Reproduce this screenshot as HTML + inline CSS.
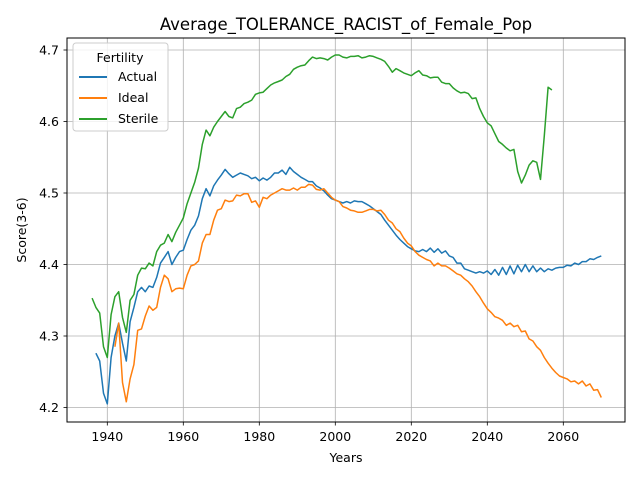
<!DOCTYPE html>
<html><head><meta charset="utf-8"><style>
body{margin:0;background:#fff;}
svg text{font-family:"DejaVu Sans","Liberation Sans",sans-serif;fill:#000;}
</style></head><body>
<svg id="chart" width="640" height="480" xmlns="http://www.w3.org/2000/svg">
<rect width="640" height="480" fill="#fff"/>
<text x="346" y="30" font-size="16.5" text-anchor="middle">Average_TOLERANCE_RACIST_of_Female_Pop</text>
<g id="grid"></g>
<g id="series"></g>
<rect x="67" y="38" width="558" height="384" fill="none" stroke="#000" stroke-width="1"/>
<g id="axes"></g>
<text x="346" y="462" font-size="12.5" text-anchor="middle">Years</text>
<text x="26" y="230" font-size="12.5" text-anchor="middle" transform="rotate(-90 26 230)">Score(3-6)</text>
<g>
<rect x="73" y="43" width="95" height="88" rx="3" fill="#fff" fill-opacity="0.8" stroke="#ccc"/>
<text x="120" y="62" font-size="12.5" text-anchor="middle">Fertility</text>
<g><line x1="79" x2="107" y1="77" y2="77" stroke="#1f77b4" stroke-width="2"/><text x="118" y="81" font-size="12.5">Actual</text></g>
<g><line x1="79" x2="107" y1="98" y2="98" stroke="#ff7f0e" stroke-width="2"/><text x="118" y="102" font-size="12.5">Ideal</text></g>
<g><line x1="79" x2="107" y1="119" y2="119" stroke="#2ca02c" stroke-width="2"/><text x="118" y="123" font-size="12.5">Sterile</text></g>
</g>
</svg>
<script>
const xTicks=[1940,1960,1980,2000,2020,2040,2060];
const yTicks=[4.2,4.3,4.4,4.5,4.6,4.7];
const actualStart=1937;
const actual=[4.276,4.265,4.22,4.205,4.27,4.30,4.318,4.29,4.265,4.32,4.34,4.362,4.368,4.362,4.37,4.368,4.382,4.402,4.41,4.418,4.40,4.41,4.418,4.42,4.435,4.448,4.455,4.468,4.492,4.506,4.496,4.51,4.518,4.525,4.533,4.527,4.522,4.525,4.528,4.526,4.524,4.52,4.522,4.517,4.521,4.518,4.522,4.528,4.528,4.532,4.526,4.536,4.53,4.526,4.522,4.519,4.516,4.516,4.51,4.507,4.503,4.497,4.492,4.49,4.488,4.486,4.488,4.486,4.489,4.488,4.488,4.485,4.482,4.478,4.474,4.47,4.462,4.455,4.448,4.441,4.435,4.43,4.425,4.422,4.419,4.418,4.421,4.418,4.423,4.417,4.422,4.416,4.419,4.412,4.41,4.402,4.402,4.394,4.392,4.39,4.388,4.39,4.388,4.391,4.386,4.393,4.385,4.396,4.386,4.398,4.387,4.399,4.39,4.4,4.39,4.398,4.39,4.395,4.39,4.394,4.392,4.395,4.396,4.396,4.399,4.398,4.402,4.4,4.404,4.404,4.408,4.407,4.41,4.412];
const idealStart=1942;
const ideal=[4.285,4.318,4.235,4.208,4.24,4.26,4.308,4.31,4.328,4.342,4.336,4.34,4.368,4.385,4.38,4.362,4.366,4.367,4.366,4.385,4.398,4.4,4.405,4.43,4.442,4.442,4.462,4.476,4.478,4.49,4.488,4.489,4.497,4.496,4.499,4.499,4.487,4.489,4.48,4.494,4.492,4.497,4.5,4.503,4.506,4.504,4.504,4.507,4.504,4.508,4.508,4.512,4.511,4.505,4.504,4.506,4.5,4.494,4.49,4.488,4.481,4.479,4.476,4.475,4.473,4.473,4.475,4.477,4.477,4.475,4.476,4.47,4.462,4.458,4.45,4.446,4.437,4.43,4.426,4.418,4.413,4.41,4.407,4.405,4.398,4.402,4.398,4.398,4.395,4.391,4.387,4.385,4.38,4.376,4.37,4.362,4.355,4.346,4.338,4.333,4.327,4.325,4.322,4.315,4.318,4.313,4.315,4.306,4.307,4.296,4.293,4.285,4.28,4.27,4.262,4.255,4.249,4.244,4.242,4.24,4.236,4.237,4.233,4.237,4.23,4.233,4.224,4.225,4.214];
const sterileStart=1936;
const sterile=[4.353,4.34,4.332,4.285,4.27,4.33,4.355,4.362,4.326,4.305,4.35,4.358,4.385,4.395,4.394,4.402,4.398,4.418,4.427,4.43,4.442,4.432,4.445,4.455,4.465,4.485,4.5,4.515,4.535,4.568,4.588,4.58,4.592,4.6,4.607,4.614,4.607,4.605,4.618,4.62,4.625,4.627,4.63,4.638,4.64,4.641,4.646,4.651,4.654,4.656,4.658,4.663,4.666,4.673,4.676,4.678,4.679,4.685,4.69,4.688,4.689,4.688,4.686,4.69,4.693,4.693,4.69,4.689,4.691,4.691,4.692,4.689,4.69,4.692,4.691,4.689,4.687,4.684,4.677,4.669,4.674,4.671,4.668,4.666,4.664,4.668,4.671,4.665,4.664,4.661,4.662,4.662,4.655,4.653,4.653,4.647,4.643,4.64,4.641,4.639,4.632,4.633,4.618,4.607,4.598,4.594,4.583,4.572,4.568,4.563,4.559,4.561,4.53,4.514,4.525,4.539,4.545,4.543,4.519,4.58,4.648,4.644];

const NS='http://www.w3.org/2000/svg';
function X(yr){return 107.3+(yr-1940)*3.8;}
function Y(v){return 407.5-(v-4.2)*715;}
const grid=document.getElementById('grid'),axes=document.getElementById('axes'),ser=document.getElementById('series');
function mk(tag,attrs,parent){const e=document.createElementNS(NS,tag);for(const k in attrs)e.setAttribute(k,attrs[k]);parent.appendChild(e);return e;}
xTicks.forEach(t=>{
  const x=X(t);
  const g=mk('line',{x1:x,x2:x,y1:38,y2:422,stroke:'#b0b0b0','stroke-width':0.8},grid);
  
  
  mk('line',{x1:x,x2:x,y1:422,y2:425.5,stroke:'#000','stroke-width':0.8},axes);
  const tx=mk('text',{x:x,y:441,'font-size':12.5,'text-anchor':'middle'},axes);
  tx.textContent=t;
  
  
});
yTicks.forEach(t=>{
  const y=Y(t);
  const g=mk('line',{x1:67,x2:625,y1:y,y2:y,stroke:'#b0b0b0','stroke-width':0.8},grid);
  
  
  mk('line',{x1:63.5,x2:67,y1:y,y2:y,stroke:'#000','stroke-width':0.8},axes);
  const tx=mk('text',{x:59,y:y+4.5,'font-size':12.5,'text-anchor':'end'},axes);
  tx.textContent=t.toFixed(1);
  
  
});
function draw(vals,start,color,name){
  const pts=vals.map((v,i)=>X(start+i).toFixed(1)+','+Y(v).toFixed(1)).join(' ');
  const p=mk('polyline',{points:pts,fill:'none',stroke:color,'stroke-width':1.5,'stroke-linejoin':'round'},ser);
  
  
}
draw(actual,actualStart,'#1f77b4','actual-line');
draw(ideal,idealStart,'#ff7f0e','ideal-line');
draw(sterile,sterileStart,'#2ca02c','sterile-line');
</script>
</body></html>
